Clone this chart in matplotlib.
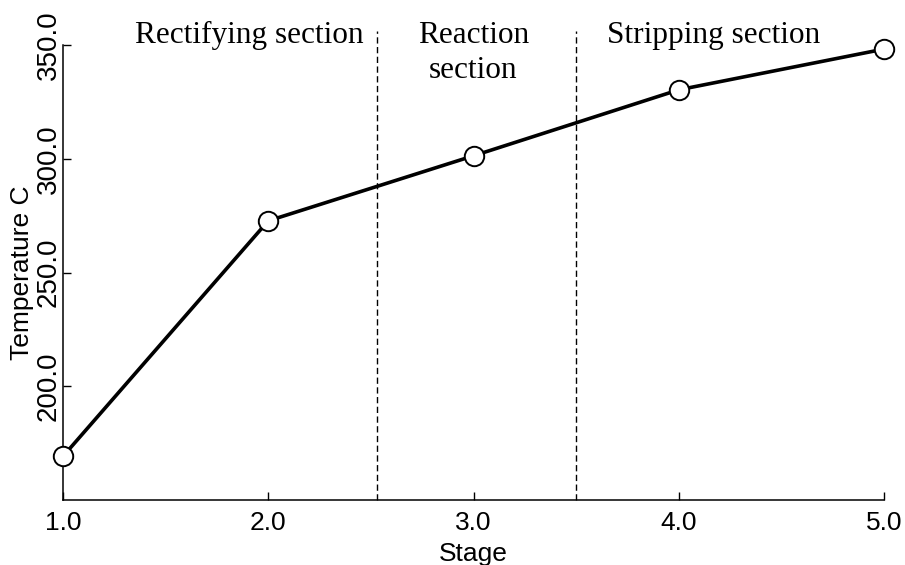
import matplotlib
matplotlib.use("Agg")
import matplotlib.pyplot as plt

# data
stages = [1.0, 2.0, 3.0, 4.0, 5.0]
temperature = [169.2, 272.7, 301.3, 330.3, 348.2]
x_ticks = [1.0, 2.0, 3.0, 4.0, 5.0]
y_ticks = [200.0, 250.0, 300.0, 350.0]
section_bounds = [2.53, 3.50]
section_names = ["Rectifying section", "Reaction\nsection", "Stripping section"]
section_centers = [1.91, 3.0, 4.17]

SANS = "Liberation Sans"
SERIF = "Liberation Serif"

fig = plt.figure(figsize=(9.05, 5.65), dpi=100)
ax = fig.add_axes([63 / 905, 65 / 565, 821 / 905, 455 / 565])

ax.plot(stages, temperature, color="black", lw=2.6, marker="o", ms=14,
        mfc="white", mec="black", mew=1.4, zorder=3, clip_on=False)

for xb in section_bounds:
    ax.plot([xb, xb], [150, 356], color="black", lw=1.0, ls=(0, (4.5, 2.5)),
            clip_on=False, zorder=2)

for name, xc in zip(section_names, section_centers):
    ax.text(xc, 360.5, name, ha="center", va="top", family=SERIF,
            fontsize=22.5, linespacing=1.25)

ax.set_xlim(1.0, 5.0)
ax.set_ylim(150, 350)
ax.set_xticks(x_ticks)
ax.set_xticklabels([f"{v:.1f}" for v in x_ticks], family=SANS, fontsize=19)
ax.set_yticks(y_ticks)
ax.set_yticklabels([f"{v:.1f}" for v in y_ticks], family=SANS, fontsize=20,
                   rotation=90, va="center")
ax.tick_params(direction="in", length=6, width=1.0, colors="black")
ax.tick_params(axis="x", pad=8)
ax.tick_params(axis="y", pad=1)

for side in ("top", "right"):
    ax.spines[side].set_visible(False)
for side in ("left", "bottom"):
    ax.spines[side].set_linewidth(1.1)

ax.set_xlabel("Stage", family=SANS, fontsize=19, labelpad=5)
ax.set_ylabel("Temperature C", family=SANS, fontsize=19, labelpad=1)

fig.savefig("out.png", dpi=100)
